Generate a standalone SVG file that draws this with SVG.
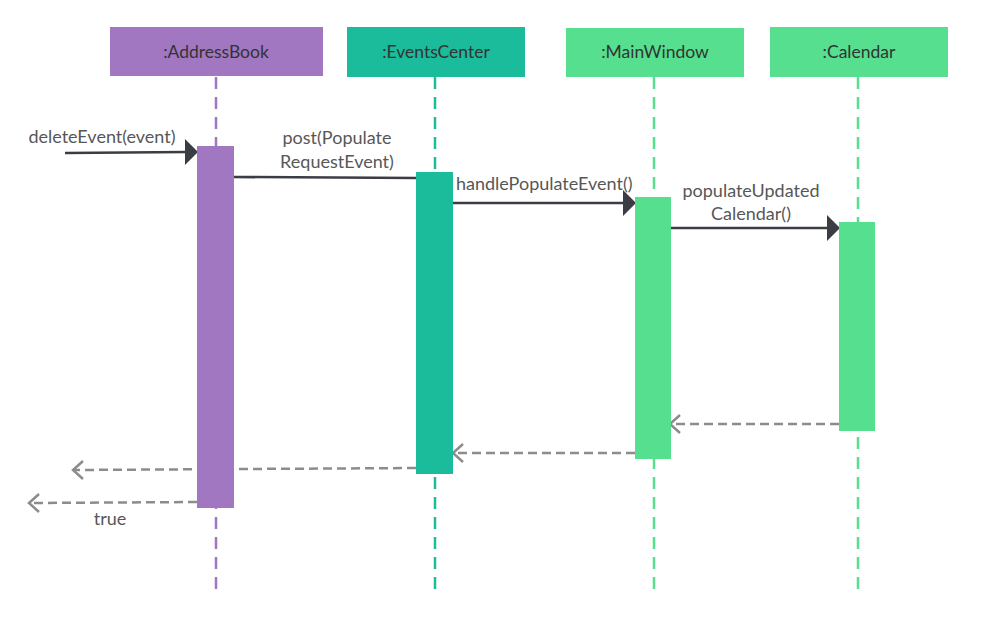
<svg xmlns="http://www.w3.org/2000/svg" width="983" height="621" viewBox="0 0 983 621">
<style>
text{font-family:Lato,"Open Sans","Liberation Sans",sans-serif;font-size:18px;fill:#575757}
.hd{fill:#333333;font-size:17.5px}
.life{stroke-width:2.5;stroke-dasharray:12 8;fill:none}
.msg{stroke:#3a3d44;stroke-width:2.5;fill:none}
.ret{stroke:#8c8c8c;stroke-width:2.5;stroke-dasharray:9 5;fill:none}
.chev{stroke:#8c8c8c;stroke-width:2.5;fill:none}
.tri{fill:#3a3d44}
</style>
<rect width="983" height="621" fill="#ffffff"/>
<g id="lifelines">
<line class="life" x1="216" y1="77" x2="216" y2="592" stroke="#a277c2"/>
<line class="life" x1="435" y1="77" x2="435" y2="597" stroke="#1abc9c"/>
<line class="life" x1="654" y1="77" x2="654" y2="597" stroke="#55df8e"/>
<line class="life" x1="858" y1="77" x2="858" y2="597" stroke="#55df8e"/>
</g>
<g id="connectors">
<line class="msg" x1="65" y1="153" x2="187" y2="152"/>
<polygon class="tri" points="185,139 198,152 185,165"/>
<line class="msg" x1="233" y1="177" x2="417" y2="178"/>
<line class="msg" x1="452" y1="203" x2="625" y2="203"/>
<polygon class="tri" points="623,190 636,203 623,216"/>
<line class="msg" x1="671" y1="228" x2="829" y2="228"/>
<polygon class="tri" points="827,215 840,228 827,241"/>
<line class="ret" x1="839" y1="424" x2="671" y2="424"/>
<polyline class="chev" points="680,415 670,424 680,433"/>
<line class="ret" x1="635" y1="453" x2="454" y2="453"/>
<polyline class="chev" points="463,444 453,453 463,462"/>
<line class="ret" x1="416" y1="468" x2="74" y2="470"/>
<polyline class="chev" points="83,461 73,470 83,479"/>
<line class="ret" x1="197" y1="502" x2="30" y2="503"/>
<polyline class="chev" points="39,494 29,503 39,512"/>
</g>
<g id="addressbook">
<rect x="110" y="27" width="213" height="49" fill="#a277c2"/>
<text class="hd" x="216" y="58" text-anchor="middle">:AddressBook</text>
<rect x="197" y="146" width="37" height="362" fill="#a277c2"/>
</g>
<g id="eventscenter">
<rect x="347" y="27" width="178" height="50" fill="#1abc9c"/>
<text class="hd" x="436" y="58" text-anchor="middle">:EventsCenter</text>
<rect x="416" y="172" width="37" height="302" fill="#1abc9c"/>
</g>
<g id="mainwindow">
<rect x="566" y="28" width="178" height="49" fill="#55df8e"/>
<text class="hd" x="655" y="58" text-anchor="middle">:MainWindow</text>
<rect x="635" y="197" width="36" height="262" fill="#55df8e"/>
</g>
<g id="calendar">
<rect x="770" y="27" width="178" height="50" fill="#55df8e"/>
<text class="hd" x="859" y="58" text-anchor="middle">:Calendar</text>
<rect x="839" y="222" width="36" height="209" fill="#55df8e"/>
</g>
<g id="labels">
<text x="102" y="143" text-anchor="middle">deleteEvent(event)</text>
<text x="337" y="144" text-anchor="middle">post(Populate</text>
<text x="337" y="168" text-anchor="middle">RequestEvent)</text>
<text x="456" y="190">handlePopulateEvent()</text>
<text x="751" y="197" text-anchor="middle">populateUpdated</text>
<text x="751" y="220" text-anchor="middle">Calendar()</text>
<text x="110" y="525" text-anchor="middle">true</text>
</g>
</svg>
